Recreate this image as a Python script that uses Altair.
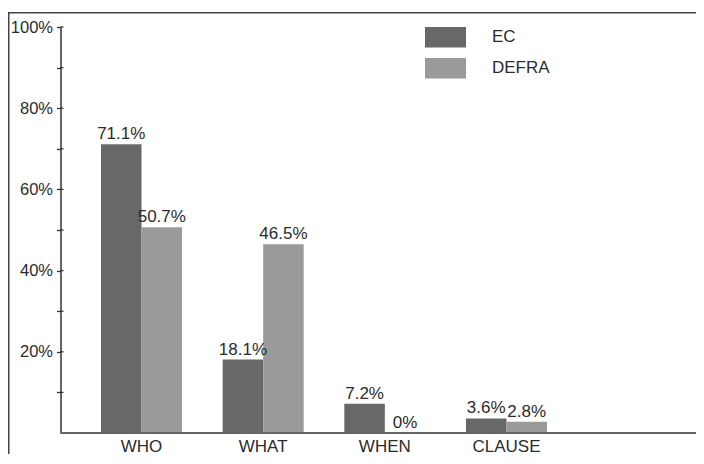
import altair as alt
import pandas as pd

categories = ["WHO", "WHAT", "WHEN", "CLAUSE"]
series = ["EC", "DEFRA"]
ec_values = [71.1, 18.1, 7.2, 3.6]
defra_values = [50.7, 46.5, 0.0, 2.8]
y_tick_values = [10, 20, 30, 40, 50, 60, 70, 80, 90, 100]
colors = ["#686868", "#9a9a9a"]

rows = []
for c, e, d in zip(categories, ec_values, defra_values):
    rows.append({"category": c, "series": "EC", "value": e, "label": f"{e:g}%"})
    rows.append({"category": c, "series": "DEFRA", "value": d, "label": f"{d:g}%"})
df = pd.DataFrame(rows)
ticks_df = pd.DataFrame({"value": y_tick_values})
one = pd.DataFrame({"a": [0]})

W = 615.5
H = 406
FONT = "Liberation Sans"
TXT = "#2b2b2b"

x_enc = alt.X(
    "category:N",
    scale=alt.Scale(domain=categories, range=[40.5, 486.5], paddingInner=0.334, paddingOuter=0),
    axis=alt.Axis(title=None, domain=False, ticks=False, labelAngle=0, labelPadding=5,
                  labelFontSize=17, labelFont=FONT, labelColor=TXT),
)
xo_enc = alt.XOffset("series:N", scale=alt.Scale(domain=series, paddingInner=0, paddingOuter=0))
y_enc = alt.Y(
    "value:Q",
    scale=alt.Scale(domain=[0, 100], nice=False),
    axis=alt.Axis(title=None, values=y_tick_values, grid=False,
                  labelExpr="datum.value % 20 == 0 ? datum.value + '%' : ''",
                  tickSize=4, tickColor="#333333", tickWidth=1.3,
                  domainColor="#333333", domainWidth=1.5,
                  labelPadding=4, labelFontSize=16.5, labelFont=FONT, labelColor=TXT),
)

bars = alt.Chart(df).mark_bar().encode(
    x=x_enc,
    xOffset=xo_enc,
    y=y_enc,
    color=alt.Color(
        "series:N",
        scale=alt.Scale(domain=series, range=colors),
        legend=alt.Legend(
            title=None, orient="none", legendX=364.5, legendY=-10.25,
            symbolType="M-1,-0.5H1V0.5H-1Z", symbolSize=1681, symbolStrokeWidth=0,
            symbolOpacity=1, labelOffset=26, labelFontSize=17, labelFont=FONT,
            labelColor=TXT, rowPadding=0, padding=0,
        ),
    ),
)

labels = alt.Chart(df).mark_text(
    baseline="alphabetic", dy=-5, fontSize=17, font=FONT, color=TXT
).encode(x=x_enc, xOffset=xo_enc, y=y_enc, text="label:N")

stubs = alt.Chart(ticks_df).mark_rule(color="#333333", strokeWidth=1.3).encode(
    y=y_enc, x=alt.value(0), x2=alt.value(3)
)

baseline = alt.Chart(one).mark_rule(color="#666666", strokeWidth=2).encode(
    y=alt.value(H), x=alt.value(0), x2=alt.value(W + 30)
)

frame_left = alt.Chart(one).mark_rule(color="#444444", strokeWidth=1.5).encode(
    x=alt.value(-51.75), y=alt.value(-15), y2=alt.value(H + 100)
)
frame_top = alt.Chart(one).mark_rule(color="#444444", strokeWidth=1.5).encode(
    y=alt.value(-14.25), x=alt.value(-52.5), x2=alt.value(W + 30)
)

chart = alt.layer(frame_left, frame_top, bars, labels, stubs, baseline).properties(
    width=W, height=H, autosize="none",
    padding={"left": 52.5, "top": 19, "right": 20, "bottom": 21},
    background="white",
).configure_view(stroke="transparent", strokeWidth=0)

chart.save("out.html", embed_options={"renderer": "svg", "actions": False})
